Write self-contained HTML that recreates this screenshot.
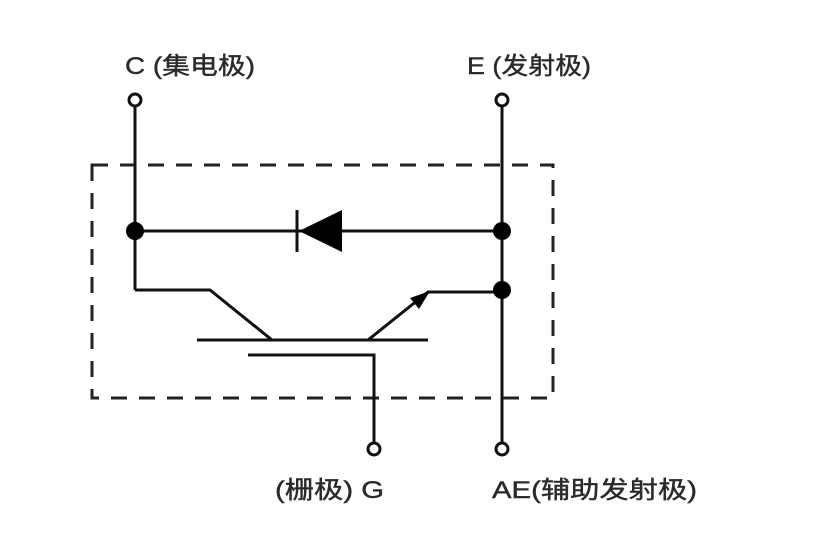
<!DOCTYPE html>
<html><head><meta charset="utf-8"><style>
html,body{margin:0;padding:0;background:#fff;}
svg{display:block}
text{font-family:"Liberation Sans","Noto Sans CJK SC",sans-serif;font-size:24px;fill:#2a2a2a;stroke:#2a2a2a;stroke-width:0.4px;}
</style></head><body>
<svg width="814" height="550" viewBox="0 0 814 550" xmlns="http://www.w3.org/2000/svg">
<rect x="92" y="165" width="461" height="233" fill="none" stroke="#222" stroke-width="3" stroke-dasharray="16,12"/>
<g stroke="#111" stroke-width="3" fill="none">
<line x1="135" y1="106" x2="135" y2="290"/>
<line x1="502" y1="106" x2="502" y2="443"/>
<line x1="135" y1="231" x2="502" y2="231"/>
<polyline points="135,290 210,290 272,340"/>
<line x1="197" y1="340" x2="428" y2="340"/>
<polyline points="368,340 428,292 502,292"/>
<polyline points="248,355 374,355 374,443"/>
<line x1="297" y1="210" x2="297" y2="252"/>
</g>
<polygon points="299,231 342,210 342,252" fill="#000"/>
<polygon points="430,291 419,309 410,298" fill="#000"/>
<circle cx="135" cy="231" r="9" fill="#000"/>
<circle cx="502" cy="231" r="9" fill="#000"/>
<circle cx="502" cy="290" r="9" fill="#000"/>
<g fill="#fff" stroke="#111" stroke-width="3">
<circle cx="135" cy="100" r="6"/>
<circle cx="502" cy="100" r="6"/>
<circle cx="374" cy="449" r="6"/>
<circle cx="502" cy="449" r="6"/>
</g>
<text x="125" y="74" textLength="130" lengthAdjust="spacingAndGlyphs">C (集电极)</text>
<text x="467" y="74" textLength="124" lengthAdjust="spacingAndGlyphs">E (发射极)</text>
<text x="275" y="498" textLength="109" lengthAdjust="spacingAndGlyphs">(栅极) G</text>
<text x="492" y="498" textLength="205" lengthAdjust="spacingAndGlyphs">AE(辅助发射极)</text>
</svg>
</body></html>
